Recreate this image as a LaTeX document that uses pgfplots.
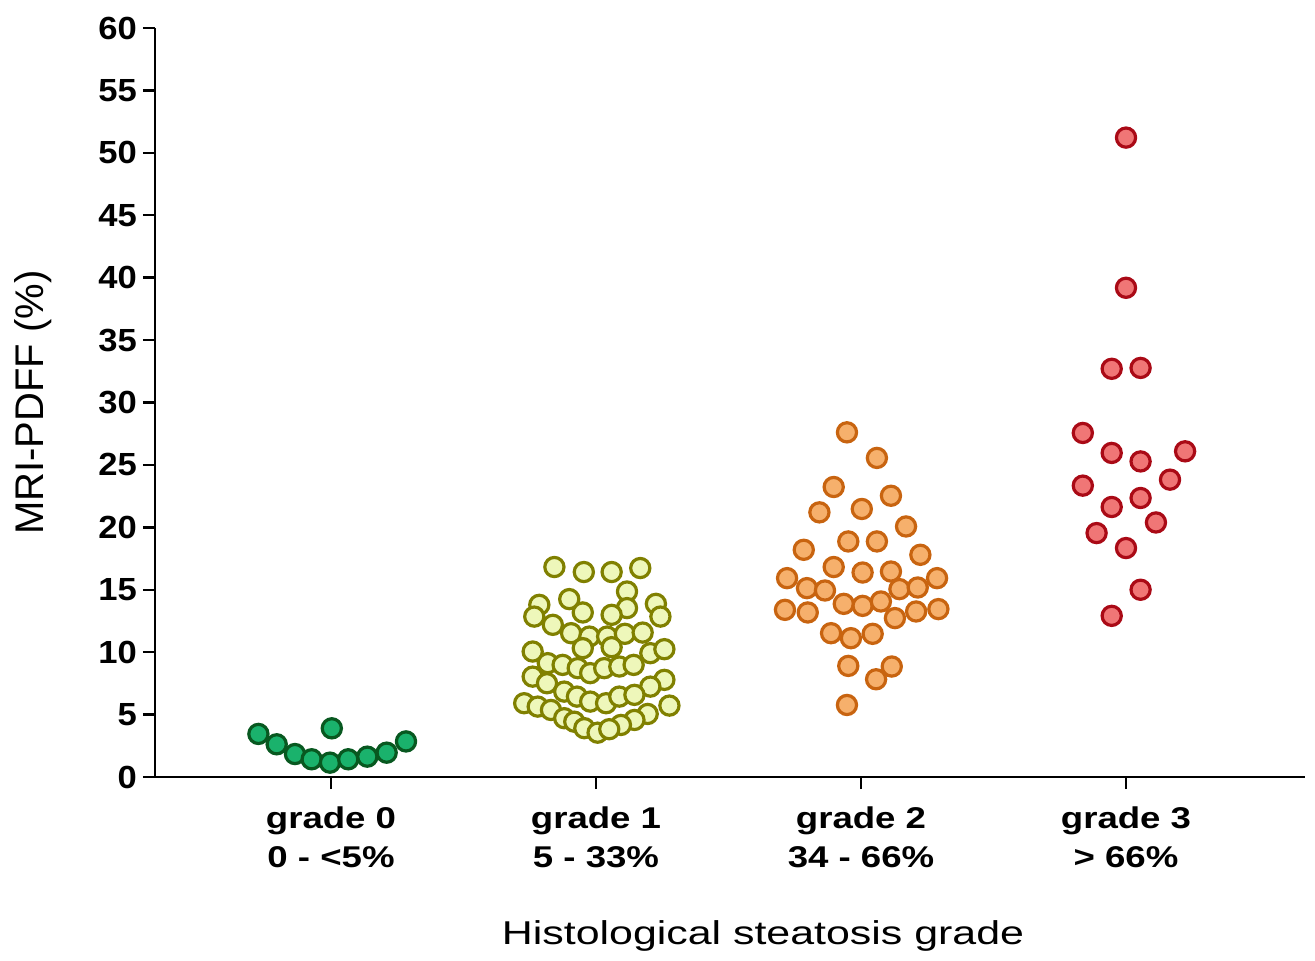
\documentclass[border=0pt]{standalone}
\usepackage{fontspec}
\setmainfont{Liberation Sans}
\newfontfamily\xtickfont{Liberation Sans}[FakeStretch=1.22]
\newfontfamily\xlabfont{Liberation Sans}[FakeStretch=1.3]
\newfontfamily\ytickfont{Liberation Sans}[FakeStretch=1.08]
\usepackage{pgfplots}
\pgfplotsset{compat=1.18}
\definecolor{gzF}{RGB}{26,178,108}
\definecolor{gzE}{RGB}{8,88,32}
\definecolor{goF}{RGB}{238,247,186}
\definecolor{goE}{RGB}{128,128,0}
\definecolor{gtF}{RGB}{246,176,108}
\definecolor{gtE}{RGB}{200,100,16}
\definecolor{grF}{RGB}{240,118,118}
\definecolor{grE}{RGB}{170,10,22}
\begin{document}
\begin{tikzpicture}
\begin{axis}[
  scale only axis, width=1150bp, height=749bp,
  xmin=-0.6642, xmax=3.6755, ymin=0, ymax=60,
  axis x line*=bottom, axis y line*=left,
  axis line style={line width=2.5bp, black},
  ytick={0,5,...,60},
  xtick={0,1,2,3},
  xticklabels={{grade 0\\0 - <5\%},{grade 1\\5 - 33\%},{grade 2\\34 - 66\%},{grade 3\\> 66\%}},
  tick style={line width=2.5bp, black},
  major tick length=12bp,
  tick align=outside,
  /pgf/number format/assume math mode=true,
  yticklabel style={font=\ytickfont\bfseries\fontsize{32bp}{34bp}\selectfont, inner sep=0pt, xshift=-6bp},
  xticklabel style={font=\xtickfont\bfseries\fontsize{30bp}{39bp}\selectfont, align=center, inner sep=0pt, yshift=-18bp},
  ylabel={MRI-PDFF (\%)},
  ylabel style={font=\fontsize{40bp}{44bp}\selectfont, at={(axis description cs:0,0.5)}, anchor=center, yshift=122bp},
  xlabel={Histological steatosis grade},
  xlabel style={font=\xlabfont\fontsize{33bp}{40bp}\selectfont, at={(axis description cs:0.5,0)}, anchor=base, xshift=33bp, yshift=-167bp},
  clip=false,
  every axis plot/.append style={only marks, mark=*, mark size=9.6bp, line width=3.2bp},
]
\addplot[mark options={draw=gzE, fill=gzF}] coordinates {
(-0.274,3.45) (-0.205,2.62) (-0.136,1.84) (-0.073,1.42) (-0.004,1.15)
(0.065,1.42) (0.137,1.63) (0.210,1.95) (0.283,2.85) (0.003,3.90)
};
\addplot[mark options={draw=goE, fill=goF}] coordinates {
(0.843,16.82) (0.954,16.42) (1.059,16.42) (1.167,16.74) (1.117,14.86)
(0.899,14.25) (0.786,13.79) (1.226,13.87) (1.117,13.53) (0.767,12.85)
(0.950,13.18) (1.059,12.99) (1.243,12.85) (0.837,12.19) (0.906,11.52)
(0.975,11.25) (1.042,11.25) (1.109,11.47) (1.176,11.57) (0.950,10.32)
(1.059,10.40) (0.761,10.05) (1.205,9.92) (1.258,10.24) (0.818,9.12)
(0.874,8.98) (0.931,8.72) (0.978,8.32) (1.031,8.72) (1.088,8.85)
(1.142,8.98) (0.761,8.04) (0.815,7.51) (1.258,7.78) (1.205,7.24)
(0.880,6.84) (0.928,6.44) (0.978,6.04) (1.038,5.91) (1.088,6.44)
(1.145,6.58) (0.729,5.91) (0.780,5.64) (0.830,5.37) (1.277,5.72)
(0.880,4.71) (0.918,4.43) (1.195,5.05) (1.145,4.57) (1.094,4.17)
(0.956,3.91) (1.006,3.55) (1.050,3.83)
};
\addplot[mark options={draw=gtE, fill=gtF}] coordinates {
(1.947,27.61) (2.060,25.56) (1.897,23.23) (2.113,22.53) (1.843,21.20)
(2.003,21.47) (2.170,20.07) (1.784,18.20) (1.952,18.87) (2.060,18.87)
(2.224,17.80) (1.897,16.82) (2.006,16.38) (2.113,16.46) (1.721,15.93)
(1.796,15.13) (1.864,14.94) (2.145,15.05) (2.214,15.18) (2.287,15.93)
(1.713,13.39) (1.799,13.18) (1.935,13.87) (2.006,13.71) (2.075,14.06)
(2.128,12.73) (2.208,13.26) (2.292,13.45) (1.887,11.52) (1.962,11.12)
(2.044,11.47) (1.952,8.90) (2.116,8.85) (2.057,7.83) (1.947,5.77)
};
\addplot[mark options={draw=grE, fill=grF}] coordinates {
(3.000,51.22) (3.000,39.19) (2.946,32.70) (3.055,32.77) (2.837,27.56)
(2.946,25.96) (3.055,25.28) (3.223,26.09) (2.837,23.34) (3.166,23.82)
(3.055,22.35) (2.946,21.63) (3.113,20.39) (2.889,19.54) (3.000,18.34)
(3.055,15.00) (2.946,12.91)
};
\end{axis}
\pgfresetboundingbox
\path (current axis.south west) ++(-155bp,-184bp) rectangle ++(1315bp,961bp);
\end{tikzpicture}
\end{document}
